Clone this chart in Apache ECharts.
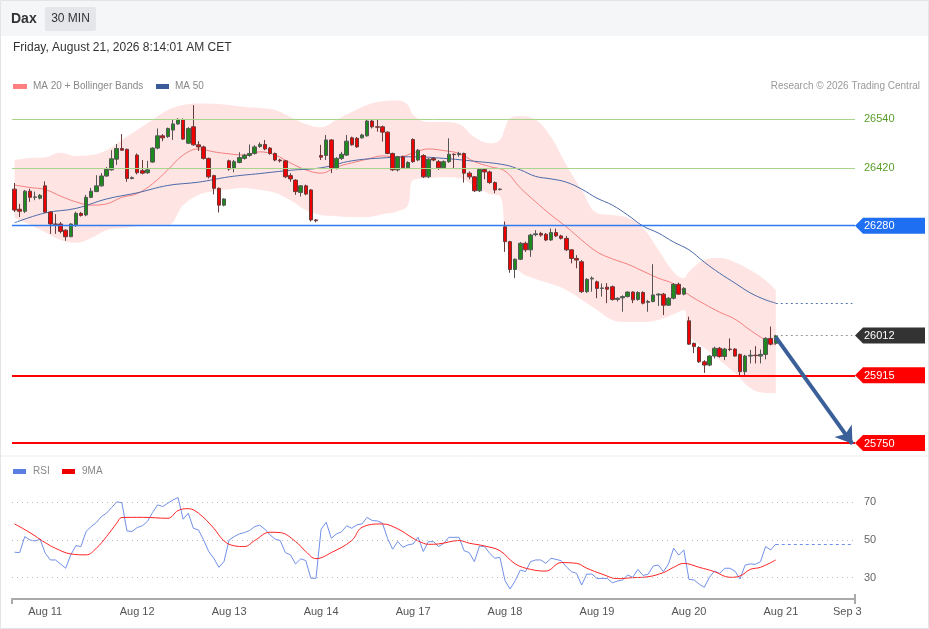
<!DOCTYPE html>
<html>
<head>
<meta charset="utf-8">
<title>Dax 30 MIN</title>
<script src="https://cdn.jsdelivr.net/npm/echarts@6/dist/echarts.min.js"></script>
<style>
html, body { margin: 0; padding: 0; background: #fff; }
#container { width: 929px; height: 629px; }
</style>
</head>
<body>
<div id="container"></div>
<script>
// slot count of the x axis (candles + empty future slots)
var slotCount = 165;
var dayLabels = {6: 'Aug 11', 24: 'Aug 12', 42: 'Aug 13', 60: 'Aug 14', 78: 'Aug 17',
                 96: 'Aug 18', 114: 'Aug 19', 132: 'Aug 20', 150: 'Aug 21', 163: 'Sep 3'};

// [open, close, low, high]
var candles = [
  [26369,26318,26313,26384],[26320,26315,26301,26333],[26315,26364,26311,26367],[26364,26349,26338,26370],
  [26349,26350,26342,26363],[26347,26354,26344,26357],[26377,26313,26311,26388],[26313,26284,26260,26315],
  [26284,26283,26260,26308],[26284,26266,26261,26289],[26269,26253,26243,26271],[26253,26284,26252,26286],
  [26282,26310,26277,26314],[26310,26305,26302,26313],[26306,26349,26303,26355],[26349,26364,26347,26372],
  [26363,26377,26362,26403],[26377,26401,26375,26408],[26401,26417,26399,26423],[26416,26443,26414,26464],
  [26442,26468,26428,26479],[26468,26464,26462,26503],[26466,26395,26387,26468],[26395,26397,26393,26400],
  [26452,26409,26405,26456],[26414,26408,26405,26440],[26409,26416,26406,26438],[26435,26469,26433,26471],
  [26469,26499,26466,26517],[26499,26494,26486,26503],[26497,26517,26494,26519],[26513,26528,26489,26538],
  [26528,26539,26526,26542],[26539,26491,26489,26541],[26481,26517,26479,26520],[26521,26477,26475,26574],
  [26477,26472,26462,26486],[26472,26444,26441,26475],[26444,26399,26395,26446],[26402,26371,26356,26404],
  [26371,26330,26312,26373],[26330,26345,26327,26347],[26438,26418,26414,26441],[26420,26436,26410,26440],
  [26434,26446,26432,26459],[26444,26452,26441,26455],[26451,26456,26448,26478],[26456,26472,26453,26476],
  [26473,26478,26470,26483],[26478,26467,26464,26489],[26469,26456,26453,26472],[26456,26440,26437,26458],
  [26440,26438,26434,26443],[26438,26399,26396,26440],[26402,26394,26387,26408],[26391,26363,26355,26393],
  [26361,26377,26351,26379],[26377,26357,26354,26380],[26367,26294,26290,26369],[26294,26292,26288,26296],
  [26451,26447,26440,26477],[26451,26489,26440,26501],[26489,26420,26408,26491],[26420,26444,26417,26447],
  [26444,26454,26440,26460],[26452,26486,26450,26501],[26494,26477,26475,26497],[26493,26472,26470,26496],
  [26494,26501,26492,26504],[26499,26535,26497,26538],[26535,26521,26517,26540],[26521,26520,26509,26540],
  [26521,26508,26485,26524],[26508,26456,26454,26510],[26456,26416,26413,26458],[26416,26448,26412,26450],
  [26448,26421,26418,26451],[26421,26434,26419,26437],[26490,26436,26433,26493],[26440,26464,26437,26467],
  [26451,26399,26396,26454],[26399,26442,26396,26445],[26444,26440,26437,26447],[26436,26421,26416,26440],
  [26421,26436,26418,26439],[26436,26454,26433,26493],[26454,26453,26420,26456],[26453,26456,26448,26460],
  [26456,26408,26385,26458],[26408,26399,26393,26412],[26399,26365,26362,26401],[26365,26417,26362,26420],
  [26417,26411,26393,26420],[26411,26385,26382,26414],[26385,26367,26359,26388],[26368,26369,26366,26371],
  [26277,26241,26216,26290],[26241,26173,26165,26243],[26173,26198,26152,26200],[26198,26237,26196,26240],
  [26237,26221,26216,26241],[26221,26257,26204,26260],[26258,26260,26254,26269],[26261,26257,26253,26265],
  [26259,26245,26242,26262],[26245,26263,26243,26273],[26263,26255,26252,26273],[26255,26249,26246,26258],
  [26249,26221,26218,26255],[26221,26200,26188,26223],[26200,26196,26176,26208],[26192,26119,26116,26196],
  [26119,26149,26116,26152],[26150,26152,26119,26156],[26143,26127,26103,26146],[26127,26128,26107,26139],
  [26130,26125,26091,26140],[26131,26100,26097,26134],[26100,26103,26095,26105],[26104,26107,26070,26110],
  [26107,26118,26105,26120],[26118,26099,26091,26120],[26100,26117,26097,26120],[26117,26091,26088,26120],
  [26093,26095,26070,26099],[26095,26111,26093,26186],[26111,26113,26084,26115],[26113,26086,26062,26116],
  [26086,26103,26084,26106],[26103,26137,26100,26140],[26137,26113,26111,26141],[26113,26127,26110,26130],
  [26048,25991,25989,26058],[25993,25985,25969,25995],[25983,25948,25945,25986],[25948,25940,25921,25952],
  [25940,25962,25937,25964],[25962,25981,25956,25985],[25981,25961,25958,25984],[25961,25979,25952,25982],
  [25979,25978,25974,26005],[25979,25962,25960,25981],[25966,25924,25913,25968],[25924,25962,25913,25965],
  [25962,25964,25944,25977],[25964,25963,25944,25986],[25962,25966,25944,25978],[25966,26005,25954,26008],
  [26005,25991,25988,26034],[25993,26012,25990,26014]
];

// moving averages: [slot, value]
var ma20 = [[0,26379],[3,26373],[6,26368],[9,26352],[12,26338],[15,26330],[18,26333],[21,26349],
  [24,26358],[27,26382],[30,26416],[33,26452],[36,26467],[39,26460],[42,26455],[45,26452],[48,26460],
  [51,26452],[54,26433],[57,26416],[60,26408],[63,26423],[66,26433],[69,26442],[72,26450],[75,26447],
  [78,26457],[81,26467],[84,26463],[87,26456],[90,26436],[93,26424],[96,26413],[99,26372],[102,26338],
  [105,26306],[108,26277],[111,26245],[114,26216],[117,26199],[120,26186],[123,26169],[126,26152],
  [129,26138],[132,26111],[135,26089],[138,26069],[141,26052],[144,26025],[147,26001],[149,25989]];

var ma50 = [[0,26287],[6,26311],[12,26322],[18,26345],[24,26360],[30,26378],[36,26386],[42,26399],
  [48,26407],[54,26415],[60,26421],[66,26438],[72,26445],[78,26448],[84,26444],[90,26437],[96,26428],
  [99,26416],[102,26400],[105,26394],[108,26386],[111,26369],[114,26347],[117,26330],[120,26306],
  [123,26279],[126,26262],[129,26240],[132,26221],[135,26191],[138,26164],[141,26140],[144,26116],
  [147,26099],[149,26091]];

var bbUpper = [[0,26440],[3,26445],[6,26447],[9,26458],[12,26450],[15,26452],[18,26464],[21,26489],
  [24,26513],[27,26538],[30,26562],[33,26574],[36,26578],[39,26577],[42,26574],[45,26569],[48,26567],
  [51,26562],[54,26545],[57,26528],[60,26520],[63,26538],[66,26557],[69,26574],[72,26583],[75,26585],
  [77,26574],[78,26550],[81,26533],[84,26533],[87,26528],[90,26496],[93,26481],[95,26489],[96,26518],
  [97,26542],[99,26547],[102,26538],[105,26496],[108,26428],[111,26367],[114,26311],[117,26306],
  [120,26299],[123,26274],[126,26221],[129,26167],[131,26152],[132,26167],[135,26196],[138,26201],
  [141,26191],[144,26172],[147,26147],[149,26123]];

var bbLower = [[0,26299],[3,26282],[6,26264],[9,26245],[12,26238],[15,26250],[18,26269],[21,26274],
  [24,26279],[27,26282],[30,26282],[33,26330],[36,26355],[39,26364],[42,26369],[45,26372],[48,26367],
  [51,26360],[54,26342],[57,26318],[60,26306],[63,26303],[66,26301],[69,26301],[72,26308],[75,26315],
  [77,26330],[78,26391],[81,26396],[84,26398],[87,26396],[90,26377],[93,26357],[95,26352],[96,26257],
  [97,26208],[99,26167],[102,26150],[105,26138],[108,26123],[111,26099],[114,26074],[117,26050],
  [120,26045],[123,26045],[126,26050],[129,26064],[131,26074],[132,26013],[135,25982],[138,25952],
  [141,25921],[144,25884],[147,25872],[149,25872]];

var rsi = [43.5,43.3,51.8,50.0,49.5,50.4,43.0,39.4,39.4,37.3,35.0,42.1,47.0,46.5,54.5,57.1,59.2,62.4,
  64.2,67.2,70.2,69.8,54.8,54.5,56.6,57.5,59.8,64.5,68.6,67.7,69.5,71.2,72.5,61.0,64.2,56.2,55.3,50.0,
  43.9,40.3,35.5,38.6,50.0,51.8,53.2,53.9,55.0,57.1,57.8,55.7,52.7,50.4,49.7,43.3,42.1,37.3,40.0,39.1,
  29.7,29.7,55.7,59.4,50.9,53.2,54.3,57.5,56.2,58.0,58.5,62.0,60.3,60.1,58.9,50.9,45.1,49.2,46.1,47.4,
  47.9,51.4,43.9,49.1,49.1,46.5,48.2,51.4,51.4,51.4,44.3,43.3,38.5,46.8,46.5,42.9,40.3,40.8,28.4,24.0,
  28.4,34.1,33.2,38.5,39.4,39.4,37.6,40.3,39.7,39.0,35.8,33.2,32.3,26.1,31.9,31.9,29.6,29.6,29.6,27.3,
  28.2,28.8,31.4,30.2,34.4,31.2,31.8,36.2,36.7,33.2,37.3,45.6,42.0,44.7,29.1,28.8,26.6,24.9,30.2,33.5,
  32.3,35.0,35.0,33.5,29.3,36.7,37.3,37.1,38.5,46.5,44.7,47.9];

var rsiMA = [[0,58.5],[3,53.9],[6,48.6],[8,45.6],[11,42.6],[14,42.1],[16,45.6],[18,51.8],[20,58.9],
  [21,61.9],[25,62.0],[30,61.5],[32,65.6],[34,66.6],[36,64.2],[39,56.2],[41,49.5],[43,46.9],[45,46.5],
  [47,49.7],[50,54.1],[52,53.9],[55,49.2],[57,43.9],[59,40.1],[62,43.3],[66,49.7],[68,56.7],[72,58.5],
  [75,55.9],[78,50.9],[80,48.3],[81,47.7],[83,47.9],[87,49.7],[89,48.3],[92,46.8],[95,44.3],[98,37.3],
  [101,34.4],[104,33.5],[107,38.0],[110,37.6],[112,35.0],[115,31.9],[118,29.5],[121,30.0],[124,30.5],
  [127,32.7],[129,35.5],[131,37.6],[134,35.5],[137,33.2],[140,30.2],[142,30.9],[144,34.4],[146,35.5],
  [149,39.4]];

var lastPrice = 26012;
var greenLevels = [26540, 26420];
var tagLevels = [26280, 26012, 25915, 25750];
var tagColors = ['#1f6ff2', '#333333', '#ff0000', '#ff0000'];
var rsiLevels = [70, 50, 30];
var arrowTarget = 25748;

var categories = [];
for (var i = 0; i < slotCount; i++) {
    categories.push(dayLabels[i] || '');
}
var bbWidth = bbUpper.map(function (p, k) { return [p[0], p[1] - bbLower[k][1]]; });
var lastSlot = candles.length - 1;
var ma50Last = ma50[ma50.length - 1][1];
var rsiLast = rsi[rsi.length - 1];

var font = "'Liberation Sans', Arial, sans-serif";

var dom = document.getElementById('container');
var myChart = echarts.init(dom);

var option = {
    animation: false,
    textStyle: {fontFamily: font},
    grid: [
        {left: 12, width: 843, top: 94.4, height: 360.9},
        {left: 12, width: 843, top: 460, height: 139}
    ],
    xAxis: [
        {type: 'category', gridIndex: 0, data: categories, boundaryGap: true, show: false},
        {
            type: 'category', gridIndex: 1, data: categories, boundaryGap: true,
            axisLine: {lineStyle: {color: '#aaaaaa', width: 2}},
            axisTick: {show: true, length: 5, interval: function (idx) { return idx === 0; },
                       lineStyle: {color: '#aaaaaa', width: 2}},
            axisLabel: {interval: 0, color: '#555', fontSize: 11, margin: 7, fontFamily: font},
            splitLine: {show: false}
        }
    ],
    yAxis: [
        {type: 'value', gridIndex: 0, min: 25720, max: 26600, show: false, splitLine: {show: false}},
        {type: 'value', gridIndex: 1, min: 18.7, max: 92.4, show: false, splitLine: {show: false}}
    ],
    series: [
        {
            name: 'bbLower', type: 'line', xAxisIndex: 0, yAxisIndex: 0, stack: 'bb',
            data: bbLower, smooth: 0.4, symbol: 'none', lineStyle: {opacity: 0}, z: 1, silent: true
        },
        {
            name: 'bbBand', type: 'line', xAxisIndex: 0, yAxisIndex: 0, stack: 'bb',
            data: bbWidth, smooth: 0.4, symbol: 'none', lineStyle: {opacity: 0},
            areaStyle: {color: '#ffe4e4', opacity: 1}, z: 1, silent: true
        },
        {
            name: 'MA 20', type: 'line', xAxisIndex: 0, yAxisIndex: 0, data: ma20, smooth: 0.4,
            symbol: 'none', lineStyle: {color: '#f47f7f', width: 1}, z: 2
        },
        {
            name: 'MA 50', type: 'line', xAxisIndex: 0, yAxisIndex: 0, data: ma50, smooth: 0.4,
            symbol: 'none', lineStyle: {color: '#4a6aa8', width: 1}, z: 2,
            markLine: {
                silent: true, symbol: ['none', 'none'], label: {show: false},
                data: [[{coord: [lastSlot, ma50Last]}, {coord: [slotCount - 1, ma50Last]}]],
                lineStyle: {color: '#5577aa', type: [2, 3], width: 1}
            }
        },
        {
            name: 'Dax', type: 'candlestick', xAxisIndex: 0, yAxisIndex: 0, data: candles,
            barWidth: 4, z: 3,
            itemStyle: {
                color: '#1e8a1e', color0: '#f00000',
                borderColor: '#555555', borderColor0: '#6a3a3a', borderWidth: 1
            },
            markLine: {
                silent: true, symbol: ['none', 'none'], label: {show: false},
                data: [
                    {yAxis: greenLevels[0], lineStyle: {color: '#a9d48c', width: 1, type: 'solid'},
                     label: {show: true, position: 'end', distance: 9, formatter: String(greenLevels[0]),
                             color: '#5a9e2a', fontSize: 11, fontFamily: font}},
                    {yAxis: greenLevels[1], lineStyle: {color: '#a9d48c', width: 1, type: 'solid'},
                     label: {show: true, position: 'end', distance: 9, formatter: String(greenLevels[1]),
                             color: '#5a9e2a', fontSize: 11, fontFamily: font}},
                    {yAxis: tagLevels[0], lineStyle: {color: '#2f7bef', width: 1.3, type: 'solid'}},
                    {yAxis: tagLevels[2], lineStyle: {color: '#ff0000', width: 2, type: 'solid'}},
                    {yAxis: tagLevels[3], lineStyle: {color: '#ff0000', width: 2, type: 'solid'}},
                    [{coord: [lastSlot, lastPrice], lineStyle: {color: '#999', width: 1, type: [2, 3]}},
                     {coord: [slotCount - 1, lastPrice]}],
                    [{coord: [lastSlot, lastPrice - 4], symbol: 'none',
                      lineStyle: {color: '#3a5f99', width: 4, type: 'solid'}},
                     {coord: [slotCount - 1, arrowTarget], symbol: 'arrow', symbolSize: 16}]
                ]
            }
        },
        {
            name: 'RSI', type: 'line', xAxisIndex: 1, yAxisIndex: 1, data: rsi,
            symbol: 'none', lineStyle: {color: '#7090e8', width: 1},
            markLine: {
                silent: true, symbol: ['none', 'none'],
                label: {show: false},
                data: [
                    {yAxis: rsiLevels[0], lineStyle: {color: '#bbbbbb', type: [1, 4], width: 1},
                     label: {show: true, position: 'end', distance: 9, formatter: String(rsiLevels[0]),
                             color: '#666', fontSize: 11, fontFamily: font}},
                    {yAxis: rsiLevels[1], lineStyle: {color: '#bbbbbb', type: [1, 4], width: 1},
                     label: {show: true, position: 'end', distance: 9, formatter: String(rsiLevels[1]),
                             color: '#666', fontSize: 11, fontFamily: font}},
                    {yAxis: rsiLevels[2], lineStyle: {color: '#bbbbbb', type: [1, 4], width: 1},
                     label: {show: true, position: 'end', distance: 9, formatter: String(rsiLevels[2]),
                             color: '#666', fontSize: 11, fontFamily: font}},
                    [{coord: [lastSlot, rsiLast], lineStyle: {color: '#7090e8', type: [3, 3], width: 1}},
                     {coord: [slotCount - 1, rsiLast]}]
                ]
            }
        },
        {
            name: '9MA', type: 'line', xAxisIndex: 1, yAxisIndex: 1, data: rsiMA, smooth: 0.4,
            symbol: 'none', lineStyle: {color: '#ff2222', width: 1}
        }
    ],
    graphic: [
        {type: 'rect', shape: {x: 0.5, y: 0.5, width: 928, height: 628},
         style: {fill: 'none', stroke: '#e4e4e4', lineWidth: 1}, silent: true, z: 0},
        {type: 'rect', shape: {x: 1, y: 1, width: 927, height: 35}, style: {fill: '#f5f6f8'}, silent: true},
        {type: 'text', x: 11, y: 19, style: {text: 'Dax', font: 'bold 14px ' + font, fill: '#333',
                                                verticalAlign: 'middle'}},
        {type: 'rect', shape: {x: 45, y: 7, width: 51, height: 24, r: 2}, style: {fill: '#e4e6e9'}},
        {type: 'text', x: 70.5, y: 19, style: {text: '30 MIN', font: '12px ' + font, fill: '#333',
                                                  align: 'center', verticalAlign: 'middle'}},
        {type: 'text', x: 13, y: 48, style: {text: 'Friday, August 21, 2026 8:14:01 AM CET',
                                              font: '12px ' + font, fill: '#333', verticalAlign: 'middle'}},
        {type: 'rect', shape: {x: 13, y: 84, width: 14, height: 5}, style: {fill: '#ff8080'}},
        {type: 'text', x: 33, y: 86.5, style: {text: 'MA 20 + Bollinger Bands', font: '10px ' + font,
                                                fill: '#888', verticalAlign: 'middle'}},
        {type: 'rect', shape: {x: 156, y: 84, width: 13, height: 5}, style: {fill: '#3a5a9a'}},
        {type: 'text', x: 175, y: 86.5, style: {text: 'MA 50', font: '10px ' + font, fill: '#888',
                                                 verticalAlign: 'middle'}},
        {type: 'text', x: 920, y: 86.5, style: {text: 'Research \u00a9 2026 Trading Central',
                                                 font: '10px ' + font, fill: '#999', align: 'right',
                                                 verticalAlign: 'middle'}},
        {type: 'line', shape: {x1: 1, y1: 456, x2: 928, y2: 456}, style: {stroke: '#eeeeee', lineWidth: 1}},
        {type: 'rect', shape: {x: 13, y: 469, width: 13, height: 5}, style: {fill: '#5b7fe0'}},
        {type: 'text', x: 33, y: 471.5, style: {text: 'RSI', font: '10px ' + font, fill: '#888',
                                                 verticalAlign: 'middle'}},
        {type: 'rect', shape: {x: 62, y: 469, width: 13, height: 5}, style: {fill: '#ee0000'}},
        {type: 'text', x: 82, y: 471.5, style: {text: '9MA', font: '10px ' + font, fill: '#888',
                                                 verticalAlign: 'middle'}},
        {type: 'line', shape: {x1: 855, y1: 599, x2: 855, y2: 594}, style: {stroke: '#aaaaaa', lineWidth: 2}}
    ]
};

myChart.setOption(option);

// price tags on the right edge, placed through the price scale
var tagGraphics = [];
var tagX = 855;
tagLevels.forEach(function (v, k) {
    var y = myChart.convertToPixel({yAxisIndex: 0}, v);
    tagGraphics.push({
        type: 'polygon',
        shape: {points: [[tagX, y], [tagX + 8, y - 8], [tagX + 70, y - 8], [tagX + 70, y + 8], [tagX + 8, y + 8]]},
        style: {fill: tagColors[k]}, z: 10
    });
    tagGraphics.push({
        type: 'text', x: tagX + 9, y: y + 0.5, z: 11,
        style: {text: String(v), font: '11px ' + font, fill: '#fff', verticalAlign: 'middle'}
    });
});
myChart.setOption({graphic: option.graphic.concat(tagGraphics)});
</script>
</body>
</html>
